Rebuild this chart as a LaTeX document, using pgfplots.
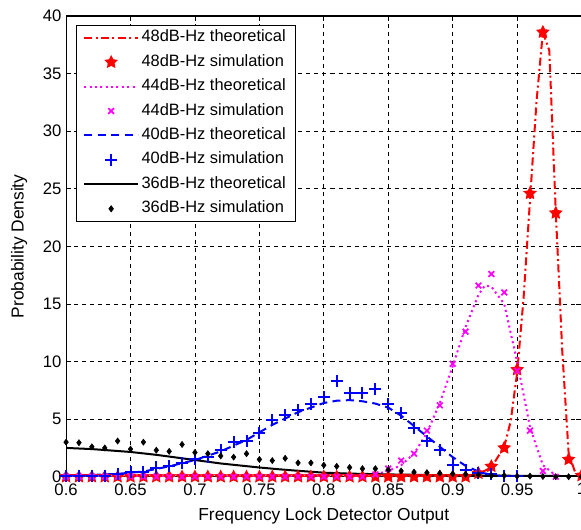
\documentclass[border=0pt]{standalone}
\usepackage{fontspec}
\setmainfont{Liberation Sans}
\usepackage{pgfplots}
\pgfplotsset{compat=1.18}
\definecolor{mag}{RGB}{255,0,255}
\definecolor{rd}{RGB}{255,0,0}
\definecolor{bl}{RGB}{0,0,255}

% filled five-point star, like MATLAB's 'p' marker
\pgfdeclareplotmark{pstar}{%
  \pgfpathmoveto{\pgfqpointpolar{90}{\pgfplotmarksize}}%
  \pgfpathlineto{\pgfqpointpolar{126}{0.5\pgfplotmarksize}}%
  \pgfpathlineto{\pgfqpointpolar{162}{\pgfplotmarksize}}%
  \pgfpathlineto{\pgfqpointpolar{198}{0.5\pgfplotmarksize}}%
  \pgfpathlineto{\pgfqpointpolar{234}{\pgfplotmarksize}}%
  \pgfpathlineto{\pgfqpointpolar{270}{0.5\pgfplotmarksize}}%
  \pgfpathlineto{\pgfqpointpolar{306}{\pgfplotmarksize}}%
  \pgfpathlineto{\pgfqpointpolar{342}{0.5\pgfplotmarksize}}%
  \pgfpathlineto{\pgfqpointpolar{18}{\pgfplotmarksize}}%
  \pgfpathlineto{\pgfqpointpolar{54}{0.5\pgfplotmarksize}}%
  \pgfpathclose
  \pgfusepathqfillstroke}

\begin{document}
\begin{tikzpicture}[font=\fontsize{12}{14}\selectfont]
\begin{axis}[
  scale only axis,
  width=386pt, height=345pt,
  xmin=0.6, xmax=1, ymin=0, ymax=40,
  xtick={0.6,0.65,0.7,0.75,0.8,0.85,0.9,0.95,1},
  xticklabels={0.6,0.65,0.7,0.75,0.8,0.85,0.9,0.95,1},
  ytick={0,5,10,15,20,25,30,35,40},
  /pgf/number format/assume math mode=true,
  tick label style={font=\fontsize{12.5}{14}\selectfont},
  xticklabel style={yshift=-1.5pt},
  tick align=inside, tick pos=both,
  major tick length=4pt,
  tick style={black, line width=0.5pt},
  axis line style={black, line width=0.8pt},
  grid=major,
  major grid style={black, line width=0.6pt, dash pattern=on 3pt off 3pt},
  xlabel={Frequency Lock Detector Output},
  ylabel={Probability Density},
  label style={font=\fontsize{13}{15}\selectfont},
  xlabel style={at={(axis description cs:0.5,-0.085)}, anchor=center},
  ylabel style={at={(axis description cs:-0.091,0.5)}, anchor=center},
  legend style={at={(axis description cs:0.0194,0.9804)}, anchor=north west,
    outer sep=0pt,
    draw=black, line width=0.5pt, inner xsep=5.5pt, inner ysep=2.5pt,
    row sep=4.3pt,
    nodes={inner ysep=1pt, text height=9pt, text depth=3pt},
    font=\fontsize{12.3}{14}\selectfont},
  legend cell align=left,
  legend image code/.code={%
    \draw[mark repeat=2,mark phase=2] plot coordinates {(0pt,0pt) (20pt,0pt) (40pt,0pt)};},
]
% 48 dB-Hz theoretical
\addplot[rd, line width=1.5pt, dash pattern=on 6pt off 2.5pt on 1.5pt off 2.5pt] coordinates {
  (0.60,0) (0.90,0) (0.91,0.05) (0.92,0.25) (0.93,0.8) (0.94,2.6) (0.945,4.8)
  (0.95,9.0) (0.955,15.5) (0.96,24.0) (0.965,32.5) (0.97,38.6) (0.975,37.0)
  (0.98,23.0) (0.985,11.0) (0.99,2.0) (0.995,0.4) (1.00,0.05)
};
\addlegendentry{48dB-Hz theoretical}
% 48 dB-Hz simulation
\addplot[only marks, rd, mark=pstar, mark size=4.5pt, line width=0.8pt] coordinates {
  (0.60,0) (0.61,0) (0.62,0) (0.63,0) (0.64,0) (0.65,0) (0.66,0) (0.67,0)
  (0.68,0) (0.69,0) (0.70,0) (0.71,0) (0.72,0) (0.73,0) (0.74,0) (0.75,0)
  (0.76,0) (0.77,0) (0.78,0) (0.79,0) (0.80,0) (0.81,0) (0.82,0) (0.83,0)
  (0.84,0) (0.85,0) (0.86,0) (0.87,0) (0.88,0) (0.89,0) (0.90,0) (0.91,0)
  (0.92,0.3) (0.93,0.9) (0.94,2.5) (0.95,9.3) (0.96,24.6) (0.97,38.6)
  (0.98,22.9) (0.99,1.5) (1.00,0.1)
};
\addlegendentry{48dB-Hz simulation}
% 44 dB-Hz theoretical
\addplot[mag, line width=1.5pt, dash pattern=on 1.5pt off 2.5pt] coordinates {
  (0.60,0) (0.80,0) (0.82,0.05) (0.84,0.2) (0.85,0.5) (0.86,1.0) (0.87,2.0)
  (0.88,3.8) (0.89,6.4) (0.90,9.6) (0.91,13.0) (0.92,15.8) (0.925,16.6)
  (0.93,16.5) (0.94,15.0) (0.95,10.0) (0.96,4.3) (0.97,1.0) (0.98,0.1)
  (0.99,0) (1.00,0)
};
\addlegendentry{44dB-Hz theoretical}
% 44 dB-Hz simulation
\addplot[only marks, mag, mark=x, mark size=3pt, line width=1.3pt] coordinates {
  (0.60,0) (0.61,0) (0.62,0) (0.63,0) (0.64,0) (0.65,0) (0.66,0) (0.67,0)
  (0.68,0) (0.69,0) (0.70,0) (0.71,0) (0.72,0) (0.73,0) (0.74,0) (0.75,0)
  (0.76,0) (0.77,0) (0.78,0) (0.79,0) (0.80,0) (0.81,0) (0.82,0) (0.83,0)
  (0.84,0.2) (0.85,0.7) (0.86,1.4) (0.87,2.0) (0.88,4.0) (0.89,6.2)
  (0.90,9.8) (0.91,12.6) (0.92,16.6) (0.93,17.6) (0.94,16.0) (0.95,9.2)
  (0.96,4.0) (0.97,0.5) (0.98,0.0)
};
\addlegendentry{44dB-Hz simulation}
% 40 dB-Hz theoretical
\addplot[bl, line width=1.5pt, dash pattern=on 6pt off 4pt] coordinates {
  (0.60,0.1) (0.62,0.15) (0.64,0.25) (0.66,0.45) (0.68,0.9) (0.70,1.45)
  (0.72,2.2) (0.74,3.2) (0.76,4.5) (0.78,5.6) (0.80,6.4) (0.81,6.6)
  (0.82,6.65) (0.83,6.55) (0.84,6.35) (0.85,6.0) (0.86,5.3) (0.87,4.4)
  (0.88,3.5) (0.89,2.6) (0.90,1.7) (0.91,0.95) (0.92,0.45) (0.93,0.15)
  (0.94,0.05) (0.95,0) (1.00,0)
};
\addlegendentry{40dB-Hz theoretical}
% 40 dB-Hz simulation
\addplot[only marks, bl, mark=+, mark size=4.5pt, line width=1.5pt] coordinates {
  (0.60,0.1) (0.61,0.1) (0.62,0.1) (0.63,0.1) (0.64,0.2) (0.65,0.4)
  (0.66,0.45) (0.67,0.8) (0.68,0.95) (0.69,1.2) (0.70,1.5) (0.71,1.7)
  (0.72,2.3) (0.73,3.0) (0.74,3.1) (0.75,3.8) (0.76,4.9) (0.77,5.4)
  (0.78,5.8) (0.79,6.3) (0.80,6.9) (0.81,8.3) (0.82,7.3) (0.83,7.3)
  (0.84,7.6) (0.85,6.3) (0.86,5.5) (0.87,4.2) (0.88,3.1) (0.89,2.3)
  (0.90,1.0) (0.91,0.6) (0.92,0.35) (0.93,0.2) (0.94,0.1) (0.95,0.1)
};
\addlegendentry{40dB-Hz simulation}
% 36 dB-Hz theoretical
\addplot[black, line width=1.5pt] coordinates {
  (0.60,2.5) (0.62,2.4) (0.65,2.15) (0.67,1.9) (0.70,1.45) (0.72,1.15)
  (0.75,0.8) (0.77,0.6) (0.80,0.35) (0.82,0.27) (0.85,0.2) (0.90,0.12)
  (0.95,0.08) (1.00,0.05)
};
\addlegendentry{36dB-Hz theoretical}
% 36 dB-Hz simulation
\addplot[only marks, black, mark=diamond*, mark size=2.3pt] coordinates {
  (0.60,3.0) (0.61,2.95) (0.62,2.6) (0.63,2.5) (0.64,3.1) (0.65,2.4)
  (0.66,3.0) (0.67,2.3) (0.68,2.2) (0.69,2.8) (0.70,2.1) (0.71,2.0)
  (0.72,1.8) (0.73,1.7) (0.74,2.0) (0.75,1.5) (0.76,1.4) (0.77,1.6)
  (0.78,1.2) (0.79,1.2) (0.80,1.0) (0.81,0.9) (0.82,0.8) (0.83,0.7)
  (0.84,0.7) (0.85,0.6) (0.86,0.5) (0.87,0.4) (0.88,0.35) (0.89,0.3)
  (0.90,0.25) (0.91,0.2) (0.92,0.15) (0.93,0.1) (0.94,0.1) (0.95,0.05)
  (0.96,0.05) (0.97,0.02) (0.98,0) (0.99,0) (1.00,0)
};
\addlegendentry{36dB-Hz simulation}
\end{axis}
\pgfresetboundingbox
\path[use as bounding box] (-49.5pt,-39.75pt) rectangle (385.6pt,357pt);
\end{tikzpicture}
\end{document}
